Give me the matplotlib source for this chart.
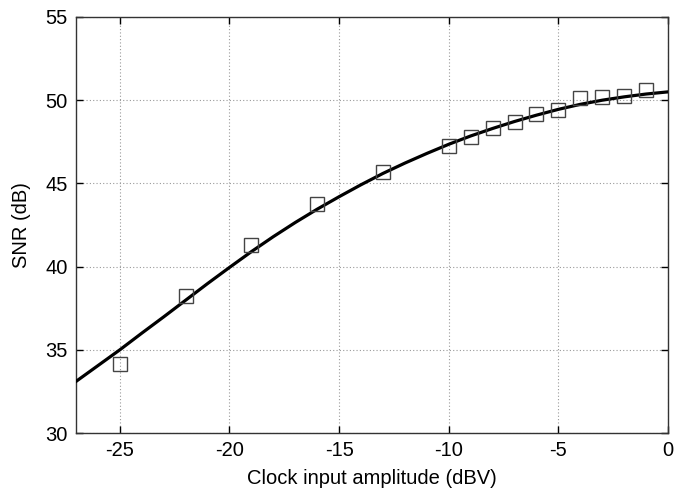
import matplotlib
matplotlib.use("Agg")
import matplotlib.pyplot as plt

plt.rcParams['font.family'] = ['Liberation Sans', 'DejaVu Sans']
plt.rcParams['axes.unicode_minus'] = False

# Measured points
meas_x = [-25, -22, -19, -16, -13, -10, -9, -8, -7, -6, -5, -4, -3, -2, -1]
meas_snr = [34.13, 38.22, 41.32, 43.79, 45.67, 47.27, 47.80, 48.34, 48.70, 49.20, 49.42, 50.12, 50.22, 50.28, 50.60]

# Fitted curve
curve_x = [-27, -26, -25, -24, -23, -22, -21, -20, -19, -18, -17, -16, -15, -14,
           -13, -12, -11, -10, -9, -8, -7, -6, -5, -4, -3, -2, -1, 0]
curve_snr = [33.1, 34.05, 35.0, 36.0, 36.98, 37.98, 38.98, 39.95, 40.9, 41.8, 42.65,
             43.45, 44.2, 44.92, 45.6, 46.22, 46.8, 47.35, 47.85, 48.3, 48.72, 49.1,
             49.45, 49.75, 50.0, 50.2, 50.37, 50.5]

x_ticks = [-25, -20, -15, -10, -5, 0]
y_ticks = [30, 35, 40, 45, 50, 55]

fig = plt.figure(figsize=(6.75, 4.91), dpi=100)
ax = fig.add_axes([0.1126, 0.1181, 0.8770, 0.8473])

ax.plot(curve_x, curve_snr, color='black', lw=2.3, zorder=3, clip_on=True)
ax.plot(meas_x, meas_snr, linestyle='none', marker='s', markersize=9.5,
        markerfacecolor='none', markeredgecolor='#444444', markeredgewidth=1.0, zorder=4)

ax.set_xlim(-27, 0)
ax.set_ylim(30, 55)
ax.set_xticks(x_ticks)
ax.set_yticks(y_ticks)
ax.tick_params(direction='in', length=5, width=1, labelsize=14.5, pad=6, top=True, right=True)
ax.grid(True, linestyle=(0, (1, 2)), color='#999999', linewidth=0.8)
for s in ax.spines.values():
    s.set_linewidth(1.0)
    s.set_color('#333333')

ax.set_xlabel('Clock input amplitude (dBV)', fontsize=14.5, labelpad=6)
ax.set_ylabel('SNR (dB)', fontsize=14.5, labelpad=10)

fig.savefig('out.png', dpi=100)
